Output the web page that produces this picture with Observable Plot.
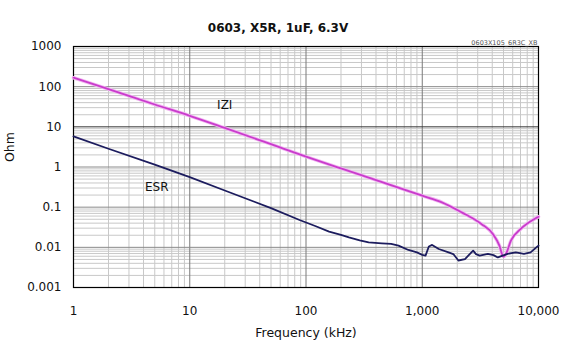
<!DOCTYPE html>
<html>
<head>
<meta charset="utf-8">
<script src="https://cdn.jsdelivr.net/npm/d3@7"></script>
<script src="https://cdn.jsdelivr.net/npm/@observablehq/plot@0.6"></script>
<style>
  html, body { margin: 0; padding: 0; background: #fff; }
</style>
</head>
<body>
<div id="chart"></div>
<script>
const titleText = "0603, X5R, 1uF, 6.3V";
const partText = "0603X105_6R3C_XB";
const xLabel = "Frequency (kHz)";
const yLabel = "Ohm";

const xTicks = [1, 10, 100, 1000, 10000];
const yTicks = [0.001, 0.01, 0.1, 1, 10, 100, 1000];

// |Z| curve (kHz, Ohm)
const zFreq = [1, 2, 5, 10, 20, 50, 100, 200, 500, 1000, 1476, 2182, 3222, 4051, 4613, 4920, 5025, 5250, 5790, 7030, 9750, 10000];
const zOhm  = [167, 87, 36, 18.8, 9.4, 3.7, 1.82, 0.92, 0.38, 0.193, 0.132, 0.0743, 0.0382, 0.0215, 0.011, 0.0062, 0.0059, 0.0069, 0.0147, 0.0287, 0.0557, 0.058];

// ESR curve (kHz, Ohm)
const esrFreq = [1, 2, 5, 10, 20, 50, 88, 120, 158, 200, 234, 290, 346, 449, 540, 625, 760, 900, 1000, 1067, 1140, 1216, 1387, 1683, 1850, 2046, 2330, 2740, 2900, 3120, 3670, 4100, 4470, 4920, 5430, 6380, 7500, 8550, 9750, 10000];
const esrOhm  = [5.8, 2.85, 1.15, 0.56, 0.26, 0.095, 0.048, 0.034, 0.0246, 0.0205, 0.0177, 0.0150, 0.0133, 0.0126, 0.0122, 0.011, 0.0086, 0.0075, 0.0065, 0.0062, 0.0105, 0.0115, 0.0091, 0.0075, 0.0068, 0.0047, 0.0051, 0.0083, 0.0068, 0.0062, 0.0069, 0.0064, 0.0056, 0.0062, 0.0069, 0.0075, 0.0069, 0.0075, 0.0104, 0.011];

const curveLabels = ["IZI", "ESR"];
const labelFreq = [20, 5.2];
const labelOhm = [34, 0.32];

const zData = zFreq.map((f, i) => ({f, v: zOhm[i]}));
const esrData = esrFreq.map((f, i) => ({f, v: esrOhm[i]}));
const labelData = curveLabels.map((t, i) => ({t, f: labelFreq[i], v: labelOhm[i]}));

const xMinor = xTicks.slice(0, -1).flatMap(d => d3.range(2, 10).map(k => d * k));
const yMinor = yTicks.slice(0, -1).flatMap(d => d3.range(2, 10).map(k => d * k));
const xMajorInner = xTicks.slice(1, -1);
const yMajorInner = yTicks.slice(1, -1).filter(d => d !== 10);

const chart = Plot.plot({
  width: 570,
  height: 351,
  marginLeft: 73,
  marginRight: 32,
  marginTop: 46,
  marginBottom: 64,
  style: {fontFamily: "DejaVu Sans", fontSize: "12px", background: "#fff", color: "#111"},
  x: {type: "log", domain: [1, 10000]},
  y: {type: "log", domain: [0.001, 1000]},
  marks: [
    Plot.ruleX(xMinor, {stroke: "#c8c8c8", strokeWidth: 1}),
    Plot.ruleY(yMinor, {stroke: "#c8c8c8", strokeWidth: 1}),
    Plot.ruleX(xMajorInner, {stroke: "#7a7a7a", strokeWidth: 1}),
    Plot.ruleY(yMajorInner, {stroke: "#8a8a8a", strokeWidth: 1}),
    Plot.ruleY([10], {stroke: "#333", strokeWidth: 1}),
    Plot.frame({stroke: "#000", strokeWidth: 1.2}),
    Plot.line(zData, {x: "f", y: "v", stroke: "#f2b8f2", strokeWidth: 3.5, curve: "monotone-x"}),
    Plot.line(zData, {x: "f", y: "v", stroke: "#c93ccc", strokeWidth: 1.8, curve: "monotone-x"}),
    Plot.line(esrData, {x: "f", y: "v", stroke: "#1c1c5e", strokeWidth: 1.8}),
    Plot.text(labelData, {x: "f", y: "v", text: "t", fontSize: 12, fill: "#111"}),
    Plot.axisX({ticks: xTicks, tickFormat: d3.format(","), tickSize: 0, tickPadding: 19, label: null}),
    Plot.axisY({ticks: yTicks, tickFormat: d => String(d), tickSize: 0, tickPadding: 12, label: null}),
    Plot.text([xLabel], {frameAnchor: "bottom", dy: 49, fontSize: 12.5, fill: "#111"}),
    Plot.text([yLabel], {frameAnchor: "left", dx: -64, dy: -5, rotate: -90, fontSize: 12.5, fill: "#111"}),
    Plot.text([titleText], {frameAnchor: "top", dx: -28, dy: -23.5, fontSize: 12, fontWeight: "bold", fill: "#111"}),
    Plot.text([partText], {frameAnchor: "top-right", dx: -1, dy: -6, textAnchor: "end", fontSize: 6.5, fill: "#555"})
  ]
});
document.getElementById("chart").append(chart);
</script>
</body>
</html>
